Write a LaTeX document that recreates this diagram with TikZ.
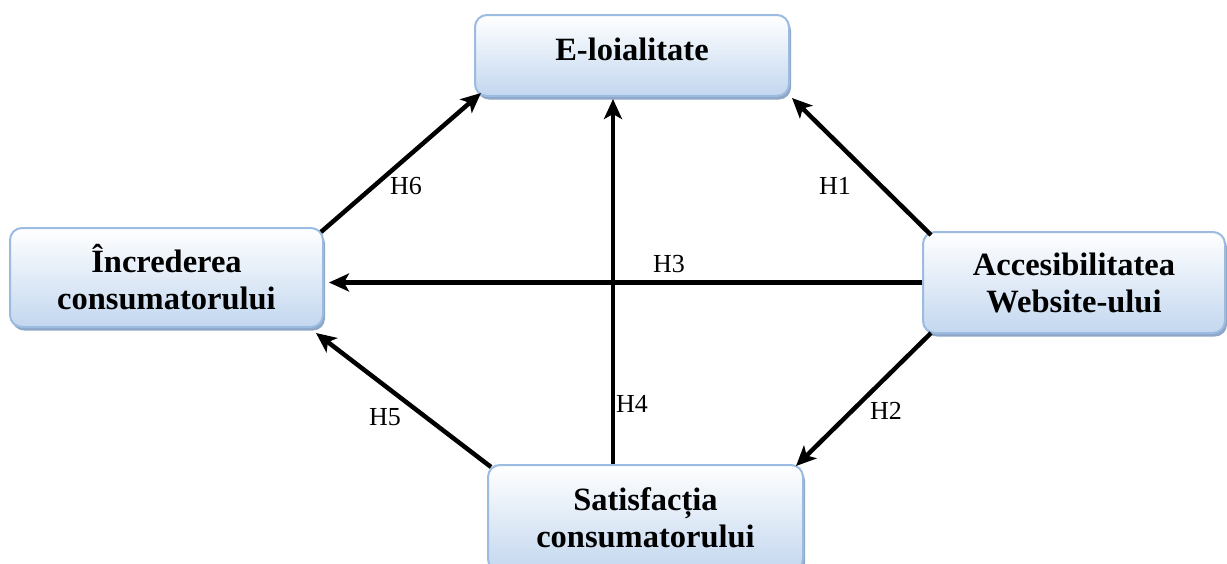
\documentclass[tikz,border=0pt]{standalone}
\usepackage{fontspec}
\setmainfont{Liberation Serif}
\usetikzlibrary{arrows.meta,shadows,calc}
\definecolor{boxline}{HTML}{9BBBE0}
\definecolor{boxfill}{HTML}{C3D7EF}
\definecolor{boxshadow}{HTML}{8EA7C7}
\begin{document}
\begin{tikzpicture}[x=1pt,y=-1pt,
  factor/.style={draw=boxline, line width=2pt, rounded corners=12pt,
    top color=white, bottom color=boxfill,
    drop shadow={shadow xshift=2pt, shadow yshift=-3.5pt, fill=boxshadow, opacity=1},
    align=center, inner sep=0pt,
    font=\fontsize{32.5}{37}\selectfont\bfseries},
  hyp/.style={line width=4.5pt, -{Stealth[length=20pt,width=18pt,inset=5pt]}},
  hlabel/.style={font=\fontsize{26}{30}\selectfont, inner sep=0pt}]
\useasboundingbox (0,0) rectangle (1227,563);

% constructs
\node[factor, minimum width=314pt, minimum height=81pt, text depth=12pt] (eloy) at (632,55.5) {E-loialitate};
\node[factor, minimum width=313pt, minimum height=99pt] (inc) at (166.5,277.5) {Încrederea\\consumatorului};
\node[factor, minimum width=302pt, minimum height=101pt] (acc) at (1074,282.5) {Accesibilitatea\\Website-ului};
\node[factor, minimum width=315pt, minimum height=106pt] (sat) at (645.5,518) {Satisfacția\\consumatorului};

% hypotheses
\coordinate (vx) at (613,0);
\draw[hyp] ($(inc.north east)+(-3,5)$) -- ($(eloy.south west)+(7,-4)$);
\draw[hyp] ($(acc.north west)+(9,4)$) -- ($(eloy.south east)+(2,1)$);
\draw[hyp] (acc.west) -- ($(inc.east |- acc.west)+(5,0)$);
\draw[hyp] ($(acc.south west)+(9,-1)$) -- ($(sat.north east)+(-8,2)$);
\draw[hyp] ($(sat.north west)+(4,3)$) -- ($(inc.south east)+(-8,5)$);
\draw[hyp] (sat.north -| vx) -- ($(eloy.south -| vx)+(0,2)$);

% labels
\node[hlabel] (h1) at (835,186) {H1};
\node[hlabel] (h2) at (886,411) {H2};
\node[hlabel] (h3) at (669,264) {H3};
\node[hlabel] (h4) at (632,404) {H4};
\node[hlabel] (h5) at (385,417) {H5};
\node[hlabel] (h6) at (406,186) {H6};
\end{tikzpicture}
\end{document}
